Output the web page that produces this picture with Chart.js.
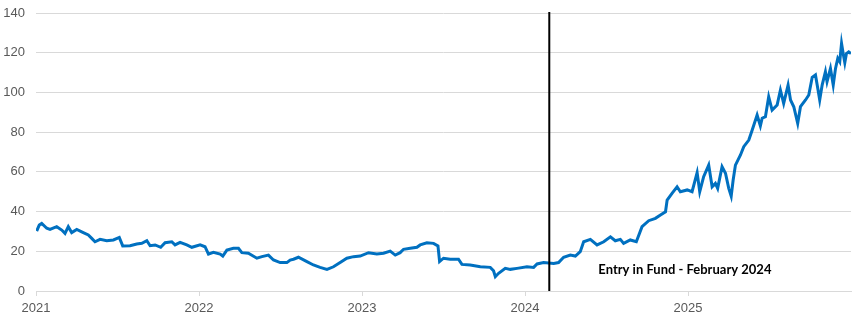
<!DOCTYPE html>
<html>
<head>
<meta charset="utf-8">
<script src="https://cdn.jsdelivr.net/npm/chart.js@4/dist/chart.umd.min.js"></script>
<style>
  body { margin: 0; background: #fff; }
</style>
</head>
<body>
<canvas id="myChart" width="857" height="328"></canvas>
<script>
// time in decimal years, value of the fund
var years = [
  2021.004, 2021.020, 2021.035, 2021.066, 2021.086, 2021.127, 2021.158, 2021.178, 2021.198, 2021.219,
  2021.250, 2021.290, 2021.321, 2021.342, 2021.362, 2021.393, 2021.434, 2021.475, 2021.511, 2021.532,
  2021.577, 2021.618, 2021.649, 2021.680, 2021.700, 2021.731, 2021.765, 2021.792, 2021.833, 2021.853,
  2021.884, 2021.925, 2021.956, 2022.007, 2022.037, 2022.058, 2022.088, 2022.130, 2022.146, 2022.171,
  2022.211, 2022.242, 2022.263, 2022.303, 2022.355, 2022.386, 2022.426, 2022.457, 2022.498, 2022.539,
  2022.559, 2022.580, 2022.610, 2022.662, 2022.702, 2022.743, 2022.785, 2022.825, 2022.866, 2022.907,
  2022.948, 2022.989, 2023.040, 2023.091, 2023.132, 2023.173, 2023.204, 2023.234, 2023.255, 2023.296,
  2023.337, 2023.357, 2023.398, 2023.439, 2023.466, 2023.476, 2023.500, 2023.541, 2023.592, 2023.613,
  2023.664, 2023.726, 2023.787, 2023.807, 2023.818, 2023.838, 2023.879, 2023.910, 2023.951, 2024.012,
  2024.053, 2024.074, 2024.114, 2024.176, 2024.206, 2024.237, 2024.278, 2024.309, 2024.339, 2024.360,
  2024.401, 2024.442, 2024.483, 2024.524, 2024.554, 2024.585, 2024.605, 2024.646, 2024.683, 2024.718,
  2024.759, 2024.800, 2024.831, 2024.862, 2024.872, 2024.902, 2024.933, 2024.953, 2024.995, 2025.025,
  2025.056, 2025.072, 2025.096, 2025.127, 2025.148, 2025.168, 2025.182, 2025.209, 2025.230, 2025.250,
  2025.265, 2025.277, 2025.291, 2025.322, 2025.342, 2025.373, 2025.394, 2025.424, 2025.444, 2025.455,
  2025.475, 2025.495, 2025.516, 2025.547, 2025.567, 2025.587, 2025.614, 2025.629, 2025.649, 2025.673,
  2025.690, 2025.721, 2025.741, 2025.762, 2025.782, 2025.796, 2025.808, 2025.823, 2025.843, 2025.853,
  2025.874, 2025.891, 2025.905, 2025.919, 2025.931, 2025.942, 2025.952, 2025.962, 2025.972, 2025.986,
  2026.000
];
var prices = [
  30.2, 33.2, 34.0, 31.6, 31.0, 32.4, 30.7, 29.0, 32.4, 29.4,
  31.0, 29.4, 28.2, 26.5, 24.8, 26.0, 25.3, 25.7, 27.0, 22.7,
  22.8, 23.7, 24.0, 25.3, 22.8, 23.2, 22.0, 24.3, 24.8, 23.2,
  24.5, 23.2, 22.0, 23.2, 22.3, 18.6, 19.5, 18.6, 17.6, 20.6,
  21.5, 21.5, 19.3, 19.0, 16.5, 17.3, 18.1, 15.6, 14.3, 14.3,
  15.6, 16.0, 17.0, 14.8, 13.1, 11.9, 10.9, 12.2, 14.4, 16.5,
  17.3, 17.6, 19.3, 18.6, 19.0, 20.1, 18.1, 19.3, 21.0, 21.5,
  22.0, 23.2, 24.3, 24.0, 22.7, 14.8, 16.5, 16.0, 16.0, 13.4,
  13.1, 12.2, 11.9, 10.2, 7.2, 8.9, 11.4, 10.9, 11.4, 12.2,
  11.9, 13.6, 14.3, 13.9, 14.3, 17.0, 18.1, 17.6, 19.8, 24.8,
  26.0, 23.2, 24.8, 27.3, 25.3, 26.0, 24.0, 25.7, 24.8, 32.4,
  35.4, 36.6, 38.3, 39.9, 45.8, 49.2, 52.5, 50.0, 50.9, 50.0,
  59.6, 50.0, 57.6, 63.4, 52.5, 54.2, 51.7, 62.6, 59.3, 51.7,
  47.8, 55.9, 63.4, 68.5, 72.7, 76.0, 81.1, 88.6, 83.1, 87.0,
  87.8, 97.8, 91.1, 93.7, 101.2, 94.5, 103.7, 96.2, 92.8, 84.4,
  92.8, 96.2, 98.7, 107.6, 108.8, 102.1, 96.2, 103.7, 110.4, 105.4,
  112.1, 103.7, 112.1, 117.2, 115.5, 124.7, 119.6, 115.0, 119.6, 120.4,
  119.6
];
var yearTicks = [2021, 2022, 2023, 2024, 2025];
var entryYear = 2024.149;          // February 2024
var entryLabel = "Entry in Fund - February 2024";
var entryLabelPos = [2024.45, 10.5]; // year, value

var points = years.map(function (y, i) { return { x: y, y: prices[i] }; });

var entryLine = {
    id: "entryLine",
    afterDatasetsDraw: function (chart) {
        var ctx = chart.ctx;
        var xs = chart.scales.x, ys = chart.scales.y;
        var px = xs.getPixelForValue(entryYear);
        ctx.save();
        ctx.beginPath();
        ctx.moveTo(px, chart.chartArea.top - 1);
        ctx.lineTo(px, chart.chartArea.bottom);
        ctx.lineWidth = 2;
        ctx.strokeStyle = "#000";
        ctx.stroke();
        ctx.font = "bold 13px Lato";
        ctx.fillStyle = "#000";
        ctx.textAlign = "left";
        ctx.textBaseline = "middle";
        ctx.fillText(entryLabel, xs.getPixelForValue(entryLabelPos[0]), ys.getPixelForValue(entryLabelPos[1]));
        ctx.restore();
    }
};

var ctx = document.getElementById("myChart").getContext("2d");
var chart = new Chart(ctx, {
    type: "line",
    data: {
        datasets: [{
            data: points,
            borderColor: "#0070C0",
            borderWidth: 3,
            pointRadius: 0,
            tension: 0,
            fill: false
        }]
    },
    options: {
        responsive: false,
        animation: false,
        layout: { padding: { top: 13, right: 6, left: 0, bottom: 0 } },
        plugins: {
            legend: { display: false },
            tooltip: { enabled: false }
        },
        scales: {
            x: {
                type: "linear",
                min: 2021,
                max: 2026,
                afterBuildTicks: function (scale) {
                    scale.ticks = yearTicks.map(function (v) { return { value: v }; });
                },
                afterFit: function (scale) { scale.height = 37; },
                grid: {
                    drawOnChartArea: false,
                    drawTicks: true,
                    tickLength: 5,
                    color: "#d9d9d9"
                },
                border: { color: "#d9d9d9" },
                ticks: {
                    color: "#595959",
                    font: { family: "Liberation Sans", size: 13 },
                    padding: 5,
                    maxRotation: 0,
                    callback: function (v) { return String(v); }
                }
            },
            y: {
                min: 0,
                max: 140,
                afterFit: function (scale) {
                    scale.width = 36;
                    scale.paddingTop = 0;
                    scale.paddingBottom = 0;
                },
                grid: { color: "#d9d9d9", drawTicks: false },
                border: { display: false },
                ticks: {
                    stepSize: 20,
                    color: "#595959",
                    font: { family: "Liberation Sans", size: 13 },
                    padding: 11
                }
            }
        }
    },
    plugins: [entryLine]
});
</script>
</body>
</html>
